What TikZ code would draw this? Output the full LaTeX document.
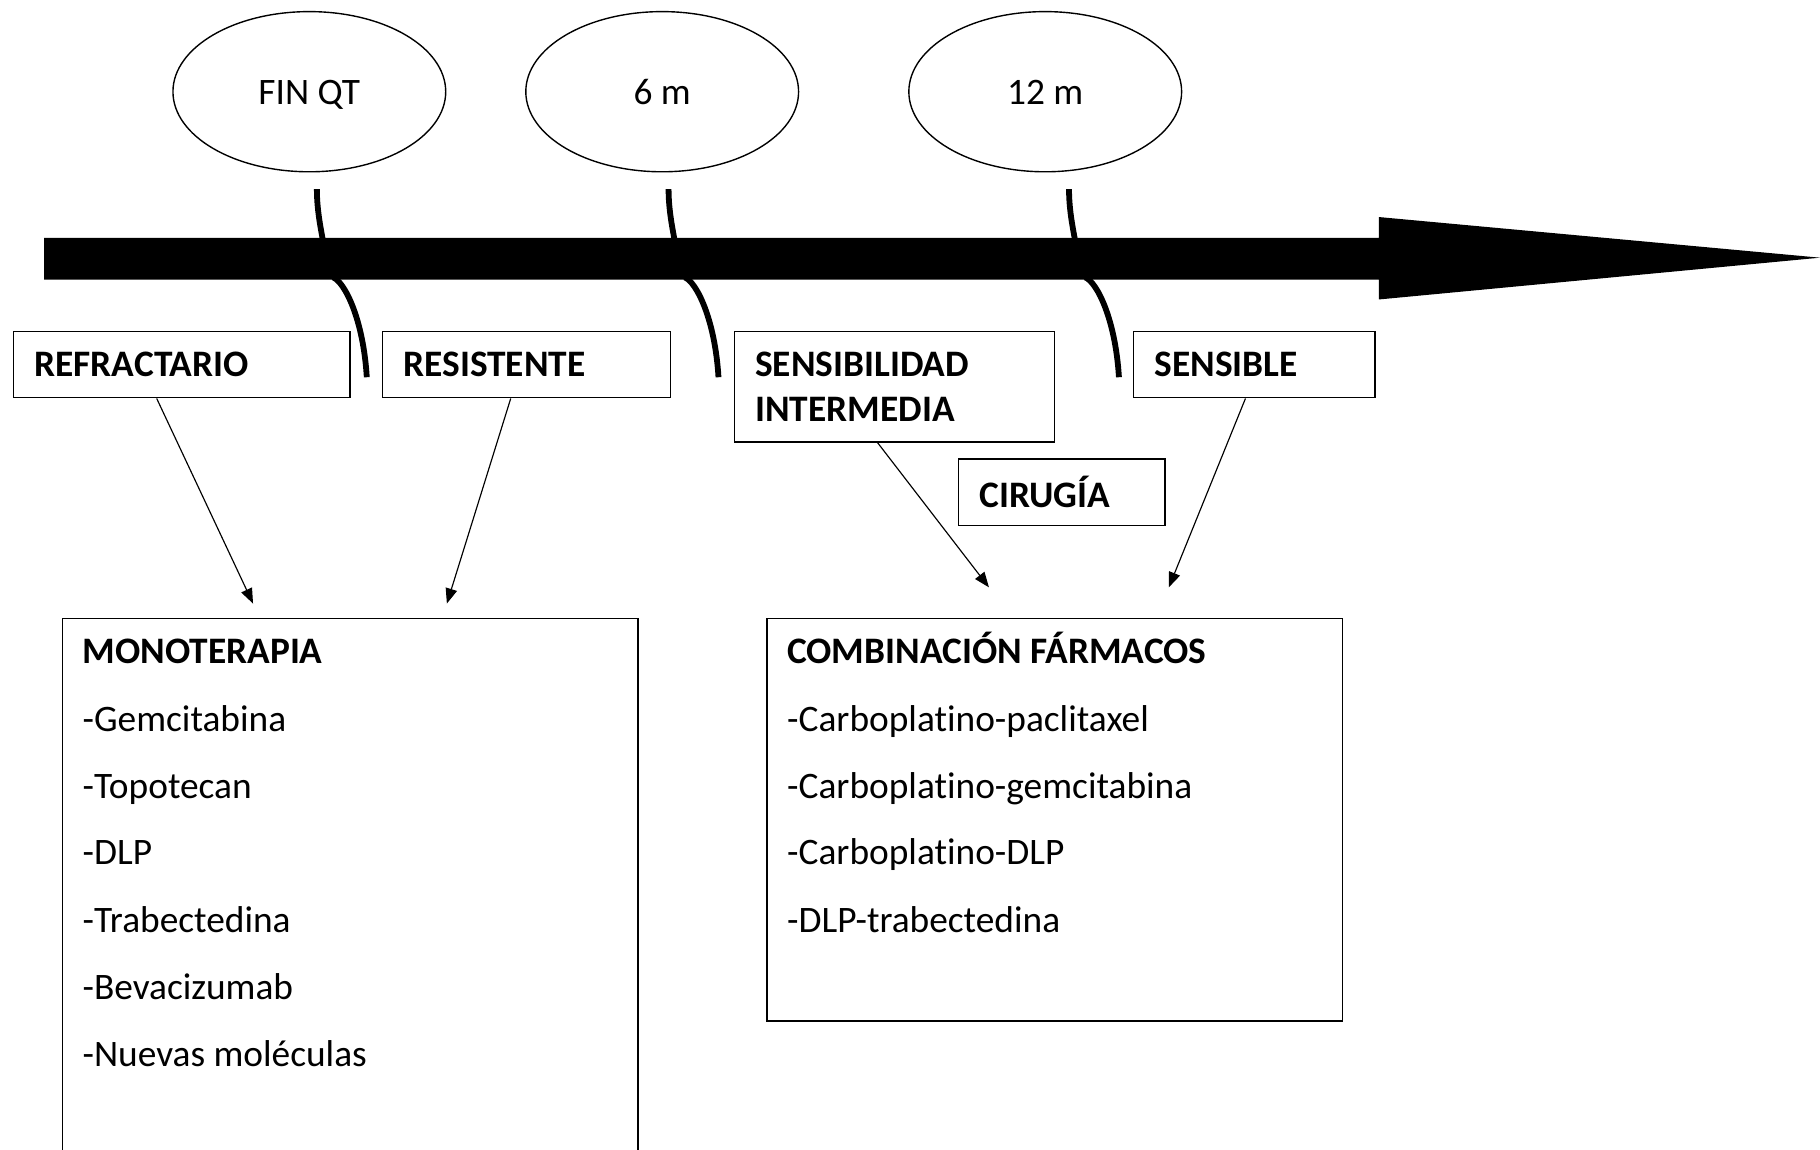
\documentclass[tikz,border=0pt]{standalone}
\usepackage{fontspec}
\setmainfont{Carlito}[Ligatures=NoCommon]
\usetikzlibrary{shapes.geometric,arrows.meta,calc}
\begin{document}
\begin{tikzpicture}[x=1pt,y=-1pt,
  every node/.style={font=\fontsize{32.2}{38}\selectfont},
  ell/.style={draw, ellipse, line width=1.2pt, minimum width=235pt, minimum height=138pt, inner sep=0pt},
  lbl/.style={draw, line width=1.3pt, anchor=north west, inner xsep=18pt, inner ysep=0pt, align=left, font=\fontsize{32.2}{38}\selectfont\bfseries},
  bigbox/.style={draw, line width=1.3pt, anchor=north west, inner sep=0pt, minimum width=496pt},
  hook/.style={line width=5pt},
  arr/.style={line width=1pt, -{Triangle[length=13pt,width=10pt]}},
  item/.style={anchor=base west, inner sep=0pt},
  itemb/.style={anchor=base west, inner sep=0pt, font=\fontsize{32.2}{38}\selectfont\bfseries},
  etext/.style={anchor=base, inner sep=0pt}
]
\useasboundingbox (0,0) rectangle (1568,990);
\fill[white] (0,0) rectangle (1568,990);

% ellipses
\node[ell] (fin) at (266.5,79) {};
\node[ell] (six) at (570.5,79) {};
\node[ell] (twelve) at (900.5,79) {};
\node[etext] (fint) at ([yshift=-11pt]fin.center) {FIN QT};
\node[etext] (sixt) at ([yshift=-11pt]six.center) {6 m};
\node[etext] (twelvet) at ([yshift=-11pt]twelve.center) {12 m};

% timeline arrow
\fill (38,205) -- (1188,205) -- (1188,187) -- (1568,222) -- (1188,258) -- (1188,241) -- (38,241) -- cycle;

% hooks
\foreach \dx in {0,303,648}{
  \draw[hook] (273+\dx,163) .. controls (273+\dx,180) and (276+\dx,195) .. (278+\dx,206);
  \draw[hook] (287+\dx,239) .. controls (297+\dx,243) and (313+\dx,275) .. (316+\dx,325);
}

% label boxes
\node[lbl, text width=254pt, minimum height=57pt] (refr) at (11,285) {REFRACTARIO};
\node[lbl, text width=212pt, minimum height=57pt] (resi) at (329,285) {RESISTENTE};
\node[lbl, text width=240pt, minimum height=95pt] (inter) at (632,285) {SENSIBILIDAD\\INTERMEDIA};
\node[lbl, text width=172pt, minimum height=57pt] (sens) at (976,285) {SENSIBLE};
\node[lbl, text width=142pt, minimum height=57pt] (ciru) at (825,395) {CIRUGÍA};

% big boxes
\node[bigbox, minimum height=480pt] (mono) at (53,532) {};
\node[bigbox, minimum height=347pt] (comb) at (660,532) {};

\node[itemb] (m0) at (71,572) {MONOTERAPIA};
\node[item] (m1) at (71,630) {-Gemcitabina};
\node[item] (m2) at (71,688) {-Topotecan};
\node[item] (m3) at (71,745) {-DLP};
\node[item] (m4) at (71,803) {-Trabectedina};
\node[item] (m5) at (71,861) {-Bevacizumab};
\node[item] (m6) at (71,919) {-Nuevas moléculas};

\node[itemb] (c0) at (678,572) {COMBINACIÓN FÁRMACOS};
\node[item] (c1) at (678,630) {-Carboplatino-paclitaxel};
\node[item] (c2) at (678,688) {-Carboplatino-gemcitabina};
\node[item] (c3) at (678,745) {-Carboplatino-DLP};
\node[item] (c4) at (678,803) {-DLP-trabectedina};

% arrows
\coordinate (t1) at (218,520);
\coordinate (t2) at (385,520);
\coordinate (t3) at (852,506);
\coordinate (t4) at (1007,506);
\draw[arr] ([xshift=124pt]refr.south west) -- (t1);
\draw[arr] ([xshift=111pt]resi.south west) -- (t2);
\draw[arr] ([xshift=124pt]inter.south west) -- (t3);
\draw[arr] ([xshift=97pt]sens.south west) -- (t4);
\end{tikzpicture}
\end{document}
